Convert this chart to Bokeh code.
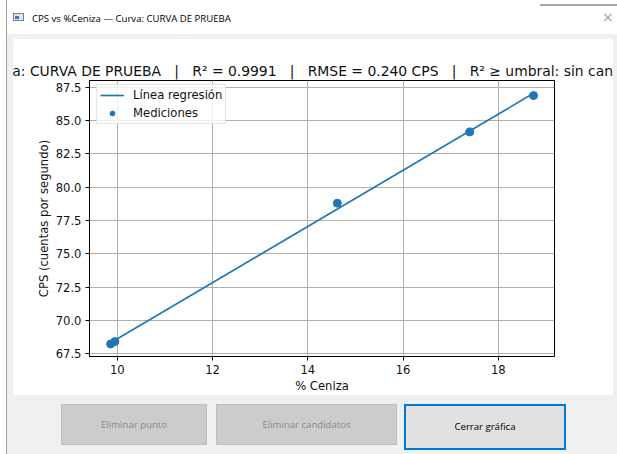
from bokeh.plotting import figure
from bokeh.layouts import column, row
from bokeh.models import (Range1d, Legend, LegendItem, FixedTicker,
                          PrintfTickFormatter, Div)
from bokeh.embed import file_html
from bokeh.resources import INLINE

# ---------------- data ----------------
ceniza = [9.86, 9.95, 14.62, 17.40, 18.74]
cps = [68.24, 68.42, 78.80, 84.14, 86.87]
reg_ceniza = [9.86, 18.74]
reg_cps = [68.33, 87.04]
x_ticks = [10, 12, 14, 16, 18]
y_ticks = [67.5, 70.0, 72.5, 75.0, 77.5, 80.0, 82.5, 85.0, 87.5]
legend_labels = ["Línea regresión", "Mediciones"]
title_parts = ["Curva: CURVA DE PRUEBA", "R² = 0.9991", "RMSE = 0.240 CPS",
               "R² ≥ umbral: sin candidatos"]
window_title = "CPS vs %Ceniza — Curva: CURVA DE PRUEBA"
button_labels = ["Eliminar punto", "Eliminar candidatos", "Cerrar gráfica"]
x_label = "% Ceniza"
y_label = "CPS (cuentas por segundo)"

# ---------------- styles ----------------
MPL_FONT = "DejaVu Sans"
UI_FONT = "'Open Sans', 'Noto Sans', sans-serif"
BLUE = "#1f77b4"
GRAY = "#f0f0f0"
NB = "\u00a0"
SEP = NB * 3 + "|" + NB * 3
plot_title = SEP.join(t.replace(" ", NB) for t in title_parts)

EDGE_W = 7            # area left of the window + window border
WIN_W = 610           # window content width (x 7..617)
TITLE_H, BAND_H, PANEL_H, BOTTOM_H = 30, 8, 357, 59

# ---------------- plot ----------------
FIG_W, FIG_H = 600, PANEL_H
p = figure(width=FIG_W, height=FIG_H, output_backend="svg", toolbar_location=None,
           x_range=Range1d(9.416, 19.180), y_range=Range1d(67.30, 88.0),
           min_border_left=76, min_border_right=59,
           min_border_top=42, min_border_bottom=39,
           border_fill_color="white", background_fill_color="white",
           title=plot_title, margin=0)

p.title.align = "center"
p.title.text_font = MPL_FONT
p.title.text_font_size = "13.9px"
p.title.text_font_style = "normal"
p.title.text_color = "#111111"
p.title.standoff = 4

p.outline_line_color = "black"
p.outline_line_width = 1
p.grid.grid_line_color = "#b0b0b0"
p.grid.grid_line_width = 1

p.xaxis.ticker = FixedTicker(ticks=x_ticks)
p.yaxis.ticker = FixedTicker(ticks=y_ticks)
p.yaxis.formatter = PrintfTickFormatter(format="%.1f")
p.xaxis.axis_label = x_label
p.yaxis.axis_label = y_label
for ax in (p.xaxis, p.yaxis):
    ax.axis_line_color = "black"
    ax.major_tick_line_color = "black"
    ax.major_tick_out = 4
    ax.major_tick_in = 0
    ax.minor_tick_line_color = None
    ax.major_label_standoff = 4
    ax.major_label_text_font = MPL_FONT
    ax.major_label_text_font_size = "11.6px"
    ax.major_label_text_color = "#111111"
    ax.axis_label_text_font = MPL_FONT
    ax.axis_label_text_font_size = "11.6px"
    ax.axis_label_text_font_style = "normal"
    ax.axis_label_text_color = "#111111"
p.xaxis.axis_label_standoff = 2
p.yaxis.axis_label_standoff = 2

line_r = p.line(reg_ceniza, reg_cps, line_color=BLUE, line_width=1.7)
pts_r = p.scatter(ceniza, cps, marker="circle", size=8,
                  fill_color=BLUE, line_color=BLUE)

legend = Legend(items=[LegendItem(label=legend_labels[0], renderers=[line_r]),
                       LegendItem(label=legend_labels[1], renderers=[pts_r])],
                location=(7, 232), margin=0, padding=3, spacing=4,
                glyph_width=24, glyph_height=12, label_height=12,
                label_standoff=9,
                label_text_font=MPL_FONT, label_text_font_size="11.6px",
                label_text_color="#111111",
                border_line_color="#cccccc", border_line_width=1,
                background_fill_color="white", background_fill_alpha=0.8)
p.add_layout(legend)

# ---------------- window chrome (HTML) ----------------
edge = Div(width=EDGE_W, height=TITLE_H + BAND_H + PANEL_H + BOTTOM_H, margin=0, text=f"""
<div style="position:relative;width:{EDGE_W}px;height:454px;background:#ffffff;">
  <div style="position:absolute;left:6px;top:0px;width:1px;height:454px;background:#a0a0a0;"></div>
</div>""")

title_bar = Div(width=WIN_W, height=TITLE_H, margin=0, text=f"""
<div style="position:relative;width:{WIN_W}px;height:{TITLE_H}px;background:#ffffff;overflow:hidden;font-family:{UI_FONT};">
  <div style="position:absolute;left:533px;top:4px;width:77px;height:2px;background:#a8a8a8;"></div>
  <div style="position:absolute;left:6px;top:13px;width:11px;height:8px;box-sizing:border-box;border:1px solid #6f829c;background:#dde5ee;"></div>
  <div style="position:absolute;left:8px;top:16px;width:4px;height:3px;background:#3b78c4;"></div>
  <div style="position:absolute;left:25px;top:12px;font-size:9.6px;line-height:14px;color:#000000;white-space:nowrap;">{window_title}</div>
  <div style="position:absolute;left:592px;top:7px;width:18px;text-align:center;font-size:18px;line-height:20px;color:#a8a8a8;">×</div>
</div>""")

band = Div(width=WIN_W, height=BAND_H, margin=0, text=f"""
<div style="width:{WIN_W}px;height:{BAND_H}px;background:{GRAY};"></div>""")

left_strip = Div(width=6, height=FIG_H, margin=0, text=f"""
<div style="width:6px;height:{FIG_H}px;background:{GRAY};"></div>""")
right_strip = Div(width=4, height=FIG_H, margin=0, text=f"""
<div style="width:4px;height:{FIG_H}px;background:{GRAY};"></div>""")

btn_specs = [(54, 9, 146, 41, "#cccccc", "1px solid #bfbfbf", "#8a8a8a"),
             (209, 9, 181, 41, "#cccccc", "1px solid #bfbfbf", "#8a8a8a"),
             (397, 9, 162, 46, "#e1e1e1", "2px solid #0078d7", "#000000")]
btn_html = ""
for lab, (l, t, w, h, bg, border, col) in zip(button_labels, btn_specs):
    btn_html += (f'<div style="position:absolute;left:{l}px;top:{t}px;width:{w}px;height:{h}px;'
                 f'box-sizing:border-box;background:{bg};border:{border};color:{col};'
                 f'display:flex;align-items:center;justify-content:center;'
                 f'font-size:9.6px;white-space:nowrap;">{lab}</div>')

bottom = Div(width=WIN_W, height=BOTTOM_H, margin=0, text=f"""
<div style="position:relative;width:{WIN_W}px;height:{BOTTOM_H}px;background:{GRAY};overflow:hidden;font-family:{UI_FONT};">
{btn_html}
</div>""")

window = column(title_bar, band,
                row(left_strip, p, right_strip, spacing=0, margin=0),
                bottom, spacing=0, margin=0)
layout = row(edge, window, spacing=0, margin=0)

open("out.html", "w").write(file_html(layout, INLINE))
